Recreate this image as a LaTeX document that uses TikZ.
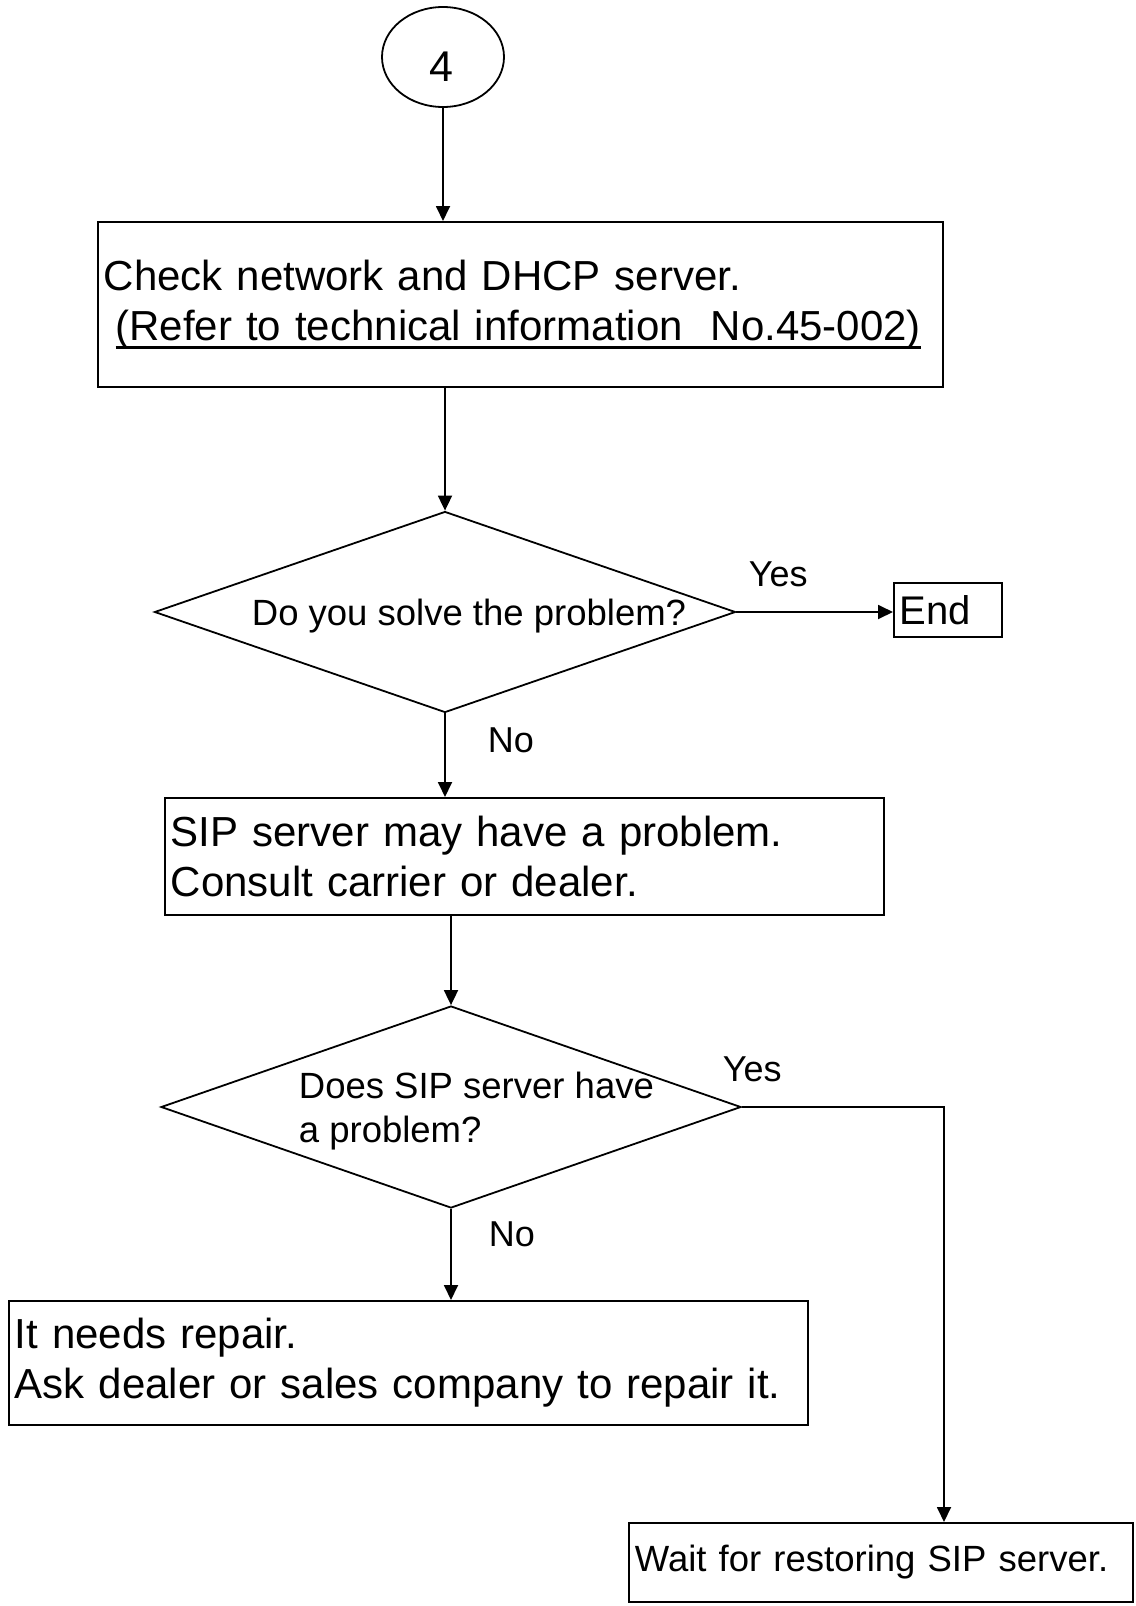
\documentclass[tikz,border=0pt]{standalone}
\usepackage{fontspec}
\setmainfont{Liberation Sans}
\usetikzlibrary{shapes.geometric,arrows.meta}

% heavier underline that sits just below the baseline
\newcommand\heavyul[1]{\setbox0\hbox{#1}\rlap{\rule[-9pt]{\wd0}{2.8pt}}\box0}

\begin{document}
\begin{tikzpicture}[x=1pt,y=-1pt,
  line width=1.8pt,
  big/.style={font=\fontsize{42}{50}\selectfont},
  mid/.style={font=\fontsize{36.5}{44}\selectfont},
  small/.style={font=\fontsize{36.5}{43}\selectfont},
  stepbox/.style={draw, rectangle, anchor=north west, inner xsep=6pt, inner ysep=0pt, align=left},
  decision/.style={draw, diamond, inner sep=0pt},
  arr/.style={-{Triangle[width=14pt,length=15pt]}},
  lbl/.style={anchor=base west, inner sep=0pt, font=\fontsize{36}{43}\selectfont}
]
\useasboundingbox (0,0) rectangle (1135,1606);

% connector circle with its number set a little low
\node[draw, ellipse, minimum width=122pt, minimum height=100pt, inner sep=0pt] (c4) at (443,57) {};
\node[inner sep=0pt, font=\fontsize{43}{50}\selectfont] (c4txt) at (441,67) {4};

% first step
\node[stepbox, big, text width=833pt, minimum height=165pt] (b1) at (97,221)
  {Check network and DHCP server.\\
   \hspace*{11.7pt}\heavyul{(Refer to technical information\ \ No.45-002)}};

% first decision
\node[decision, minimum width=581pt, minimum height=201pt] (d1) at (445,612) {};
\node[anchor=base west, inner sep=0pt, mid] (d1txt) at (251,625) {Do you solve the problem?};

\node[stepbox, font=\fontsize{40}{48}\selectfont, text width=96pt, minimum height=54pt] (end) at (893,582) {End};

% second step
\node[stepbox, big, text width=707pt, minimum height=117pt] (b2) at (164,797)
  {SIP server may have a problem.\\Consult carrier or dealer.};

% second decision
\node[decision, minimum width=580pt, minimum height=202pt] (d2) at (451,1107) {};
\node[anchor=base west, inner sep=0pt, align=left, mid] (d2txt) at (298,1142)
  {Does SIP server have\\a problem?};

% outcomes
\node[stepbox, big, text width=787pt, minimum height=124pt] (b3) at (8,1300)
  {It needs repair.\\Ask dealer or sales company to repair it.};
\node[stepbox, small, text width=492pt, minimum height=79pt] (b4) at (628,1522)
  {Wait for restoring SIP server.};

% branch labels
\node[lbl] (yes1) at (748,586) {Yes};
\node[lbl] (no1) at (487,752) {No};
\node[lbl] (yes2) at (722,1081) {Yes};
\node[lbl] (no2) at (488,1246) {No};

% connectors
\draw[arr] (c4.south) -- (c4.south |- b1.north);
\draw[arr] (d1.north |- b1.south) -- (d1.north);
\draw[arr] (d1.east) -- (d1.east -| end.west);
\draw[arr] (d1.south) -- (d1.south |- b2.north);
\draw[arr] (d2.north |- b2.south) -- (d2.north);
\draw[arr] (d2.south) -- (d2.south |- b3.north);
\coordinate (turn) at (944,1107);
\draw[arr] (d2.east) -- (turn) -- (turn |- b4.north);
\end{tikzpicture}
\end{document}
